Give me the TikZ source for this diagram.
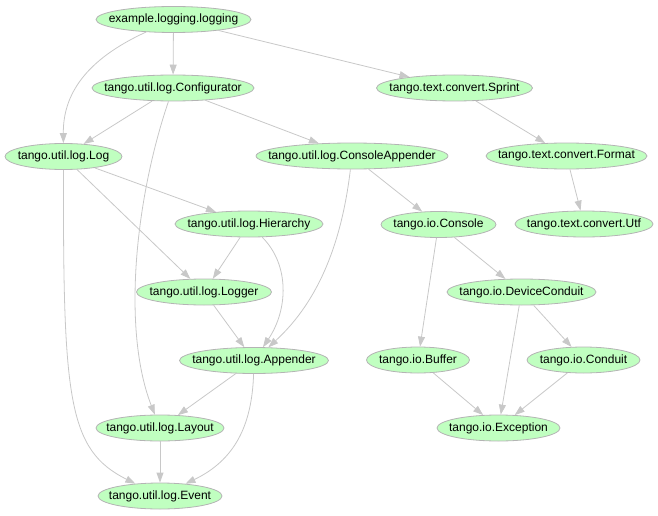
\documentclass[tikz,border=0pt]{standalone}
\usepackage{fontspec}
\setmainfont{Liberation Sans}
\usetikzlibrary{shapes.geometric,arrows.meta}
\definecolor{nodefill}{HTML}{C0FFC0}
\definecolor{nodeline}{HTML}{B4B4B4}
\definecolor{edgecol}{HTML}{C8C8C8}
\tikzset{
  ell/.style={ellipse, draw=nodeline, fill=nodefill, line width=0.8pt,
    minimum height=26pt, inner sep=0pt},
  txt/.style={font=\fontsize{12pt}{14pt}\selectfont, text=black},
  edge/.style={draw=edgecol, line width=0.8pt,
    -{Triangle[length=10pt,width=7pt,fill=edgecol,color=edgecol]}},
}
\newcommand{\gnode}[5]{%
  \node[ell, minimum width=#4pt, label={[txt]center:#5}] (#1) at (#2,#3) {};}
\begin{document}
\begin{tikzpicture}[x=1pt,y=-1pt]
\useasboundingbox (0,0) rectangle (658,516);
\gnode{logging}{173.5}{19.5}{155}{example.logging.logging}
\gnode{conf}{173}{88}{162}{tango.util.log.Configurator}
\gnode{sprint}{454.5}{88}{156}{tango.text.convert.Sprint}
\gnode{log}{63.5}{156.5}{117}{tango.util.log.Log}
\gnode{capp}{352}{156}{192}{tango.util.log.ConsoleAppender}
\gnode{format}{566.5}{156}{161}{tango.text.convert.Format}
\gnode{hier}{249}{224}{148}{tango.util.log.Hierarchy}
\gnode{console}{438.5}{224.5}{115}{tango.io.Console}
\gnode{utf}{584}{224}{138}{tango.text.convert.Utf}
\gnode{logger}{204}{292}{135}{tango.util.log.Logger}
\gnode{dev}{521.5}{292}{149}{tango.io.DeviceConduit}
\gnode{app}{254}{360.5}{149}{tango.util.log.Appender}
\gnode{buffer}{418}{360}{103}{tango.io.Buffer}
\gnode{conduit}{583.5}{360}{113}{tango.io.Conduit}
\gnode{layout}{160}{428}{128}{tango.util.log.Layout}
\gnode{exc}{498.5}{428}{123}{tango.io.Exception}
\gnode{event}{160}{496}{124}{tango.util.log.Event}

\path[edge] (logging) -- (conf);
\path[edge] (logging) .. controls (85,60) and (63,95) .. (log);
\path[edge] (logging) -- (sprint);
\path[edge] (conf) -- (log);
\path[edge] (conf) -- (capp);
\path[edge] (conf) .. controls (135,200) and (122,330) .. (layout);
\path[edge] (sprint) -- (format);
\path[edge] (format) -- (utf);
\path[edge] (log) -- (hier);
\path[edge] (log) -- (logger);
\path[edge] (log.south) .. controls (63,400) and (68,450) .. (event);
\path[edge] (capp) -- (console);
\path[edge] (capp) .. controls (342,240) and (320,300) .. (app);
\path[edge] (hier) -- (logger);
\path[edge] (hier) .. controls (290,265) and (288,310) .. (app);
\path[edge] (logger) -- (app);
\path[edge] (console) -- (buffer);
\path[edge] (console) -- (dev);
\path[edge] (dev) -- (conduit);
\path[edge] (dev) -- (exc);
\path[edge] (buffer) -- (exc);
\path[edge] (conduit) -- (exc);
\path[edge] (app) -- (layout);
\path[edge] (app) .. controls (252,425) and (235,460) .. (event);
\path[edge] (layout) -- (event);
\end{tikzpicture}
\end{document}
